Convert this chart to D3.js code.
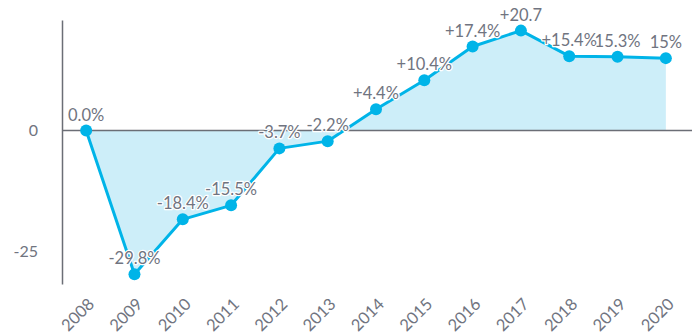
<!DOCTYPE html>
<html>
<head>
<meta charset="utf-8">
<script src="https://cdn.jsdelivr.net/npm/d3@7"></script>
<style>
  body { margin: 0; background: #fff; }
  svg { display: block; font-family: Lato, 'Open Sans', sans-serif; }
</style>
</head>
<body>
<div id="chart"></div>
<script>
const years = ['2008', '2009', '2010', '2011', '2012', '2013', '2014', '2015', '2016', '2017', '2018', '2019', '2020'];
const values = [0, -29.8, -18.4, -15.5, -3.7, -2.2, 4.4, 10.4, 17.4, 20.7, 15.4, 15.3, 15];
const pointLabels = ['0.0%', '-29.8%', '-18.4%', '-15.5%', '-3.7%', '-2.2%', '+4.4%', '+10.4%', '+17.4%', '+20.7', '+15.4%', '15.3%', '15%'];
const yTicks = [-25, 0];

const width = 696;
const height = 336;
const lineColor = '#00b4e8';
const fillColor = '#cdeef9';
const axisColor = '#6b6e76';
const textColor = '#707480';

const data = years.map((y, i) => ({ year: y, value: values[i], label: pointLabels[i] }));

const x = d3.scalePoint()
  .domain(years)
  .range([62, 690])
  .padding(0.5);

const y = d3.scaleLinear()
  .domain([-31.8, 22.9])
  .range([284, 20]);

const svg = d3.select('#chart')
  .append('svg')
  .attr('width', width)
  .attr('height', height);

// Area between line and zero
const area = d3.area()
  .x(d => x(d.year))
  .y0(y(0))
  .y1(d => y(d.value));

svg.append('path')
  .datum(data)
  .attr('fill', fillColor)
  .attr('d', area);

// Zero line
svg.append('line')
  .attr('x1', 62).attr('x2', 692)
  .attr('y1', y(0)).attr('y2', y(0))
  .attr('stroke', axisColor)
  .attr('stroke-width', 1.5);

// Y axis
svg.append('g')
  .attr('transform', 'translate(62,0)')
  .call(d3.axisLeft(y).tickValues(yTicks).tickSize(0).tickPadding(24).tickFormat(d => String(d)))
  .call(g => g.select('.domain').attr('stroke', axisColor).attr('stroke-width', 1.5))
  .call(g => g.selectAll('.tick text')
    .attr('fill', textColor)
    .attr('font-size', '16px')
    .attr('font-family', "Lato, 'Open Sans', sans-serif"));

// X axis labels
svg.append('g')
  .selectAll('text')
  .data(years)
  .join('text')
  .attr('transform', d => `translate(${x(d) + 1},${297}) rotate(-45)`)
  .attr('text-anchor', 'end')
  .attr('dy', '0.7em')
  .attr('fill', textColor)
  .attr('font-size', '16.5px')
  .text(d => d);

// Line
const line = d3.line()
  .x(d => x(d.year))
  .y(d => y(d.value));

svg.append('path')
  .datum(data)
  .attr('fill', 'none')
  .attr('stroke', lineColor)
  .attr('stroke-width', 3)
  .attr('stroke-linejoin', 'round')
  .attr('d', line);

// Dots
svg.append('g')
  .selectAll('circle')
  .data(data)
  .join('circle')
  .attr('cx', d => x(d.year))
  .attr('cy', d => y(d.value))
  .attr('r', 6)
  .attr('fill', lineColor);

// Value labels with white halo
svg.append('g')
  .selectAll('text')
  .data(data)
  .join('text')
  .attr('x', d => x(d.year))
  .attr('y', d => y(d.value) - 10)
  .attr('text-anchor', 'middle')
  .attr('font-size', '16.5px')
  .attr('fill', textColor)
  .attr('stroke', '#fff')
  .attr('stroke-width', 2.5)
  .attr('stroke-linejoin', 'round')
  .attr('paint-order', 'stroke')
  .text(d => d.label);
</script>
</body>
</html>
